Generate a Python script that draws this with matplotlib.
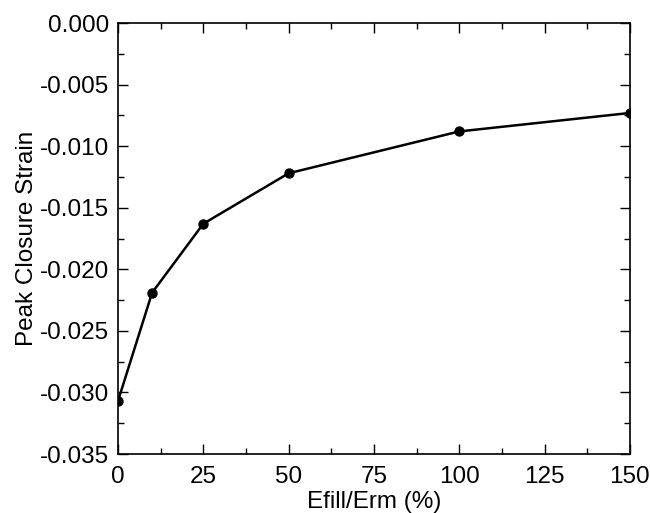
import matplotlib
matplotlib.use("Agg")
import matplotlib.pyplot as plt
from matplotlib.ticker import MultipleLocator, FormatStrFormatter

plt.rcParams['font.family'] = ['Liberation Sans', 'DejaVu Sans']

# ratio of fill modulus to rock mass modulus (%) vs peak closure strain
efill_erm = [0, 10, 25, 50, 100, 150]
peak_strain = [-0.0307, -0.0219, -0.0163, -0.0122, -0.0088, -0.0073]

fig = plt.figure(figsize=(6.5, 5.13), dpi=100)
ax = fig.add_axes([0.1815, 0.115, 0.7875, 0.84])

ax.plot(efill_erm, peak_strain, color='black', lw=1.8, marker='o', ms=6.5)

ax.set_xlim(0, 150)
ax.set_ylim(-0.035, 0.0)
ax.xaxis.set_major_locator(MultipleLocator(25))
ax.xaxis.set_minor_locator(MultipleLocator(12.5))
ax.yaxis.set_major_locator(MultipleLocator(0.005))
ax.yaxis.set_minor_locator(MultipleLocator(0.0025))
ax.yaxis.set_major_formatter(FormatStrFormatter('%.3f'))

ax.tick_params(which='both', direction='in', top=True, right=True, labelsize=17.5, width=1)
ax.tick_params(which='major', length=7)
ax.tick_params(axis='y', which='major', pad=6.5)
ax.tick_params(axis='x', which='major', pad=8.5)
ax.tick_params(which='minor', length=4)
for s in ax.spines.values():
    s.set_linewidth(1.2)

ax.set_xlabel('Efill/Erm (%)', fontsize=17.5, labelpad=2)
ax.set_ylabel('Peak Closure Strain', fontsize=17.5, labelpad=1.5)

fig.savefig('out.png', dpi=100)
